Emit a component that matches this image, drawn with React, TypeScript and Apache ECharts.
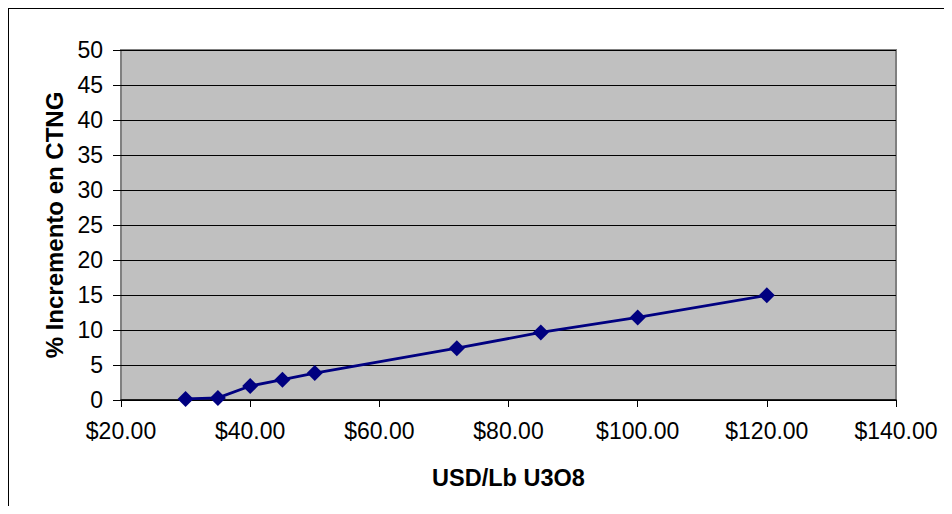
import React, { useEffect, useRef } from "react";
import * as echarts from "echarts";

const priceUsd: number[] = [30, 35, 40, 45, 50, 72, 85, 100, 120];
const incrementPct: number[] = [0.15, 0.3, 2.0, 2.9, 3.85, 7.4, 9.65, 11.8, 14.95];
const xAxisTitle = "USD/Lb U3O8";
const yAxisTitle = "% Incremento en CTNG";

export default function App() {
  const ref = useRef<HTMLDivElement>(null);
  useEffect(() => {
    if (!ref.current) return;
    const chart = echarts.init(ref.current, undefined, { renderer: "svg" });
    const font = "'Liberation Sans', Arial, sans-serif";
    chart.setOption({
      animation: false,
      backgroundColor: "#ffffff",
      grid: {
        left: 112,
        top: 41,
        right: 56,
        bottom: 106,
        show: true,
        backgroundColor: "#C0C0C0",
        borderColor: "#808080",
        borderWidth: 2,
      },
      xAxis: {
        type: "value",
        min: 20,
        max: 140,
        interval: 20,
        name: xAxisTitle,
        nameLocation: "middle",
        nameGap: 66,
        nameTextStyle: { fontFamily: font, fontSize: 23.5, fontWeight: "bold", color: "#000" },
        axisLine: { show: true, lineStyle: { color: "#000", width: 1.5 } },
        axisTick: { show: true, inside: false, length: 7, lineStyle: { color: "#000" } },
        axisLabel: {
          fontFamily: font,
          fontSize: 23,
          color: "#000",
          margin: 19,
          formatter: (v: number) => "$" + v.toFixed(2),
        },
        splitLine: { show: false },
      },
      yAxis: {
        type: "value",
        min: 0,
        max: 50,
        interval: 5,
        name: yAxisTitle,
        nameLocation: "middle",
        nameGap: 55,
        nameRotate: 90,
        nameTextStyle: { fontFamily: font, fontSize: 24, fontWeight: "bold", color: "#000" },
        axisLine: { show: false },
        axisTick: { show: true, inside: false, length: 8, lineStyle: { color: "#000" } },
        axisLabel: { fontFamily: font, fontSize: 23, color: "#000", margin: 18 },
        splitLine: { show: true, lineStyle: { color: "#000", width: 1 } },
      },
      series: [
        {
          type: "line",
          data: priceUsd.map((p, i) => [p, incrementPct[i]]),
          symbol: "diamond",
          symbolSize: 16,
          itemStyle: { color: "#000080" },
          lineStyle: { color: "#000080", width: 2.8 },
        },
      ],
    });
    return () => chart.dispose();
  }, []);
  return (
    <div
      style={{
        width: 943,
        height: 497,
        borderTop: "1px solid #000",
        borderLeft: "1px solid #000",
      }}
    >
      <div ref={ref} style={{ width: 943, height: 497 }} />
    </div>
  );
}
